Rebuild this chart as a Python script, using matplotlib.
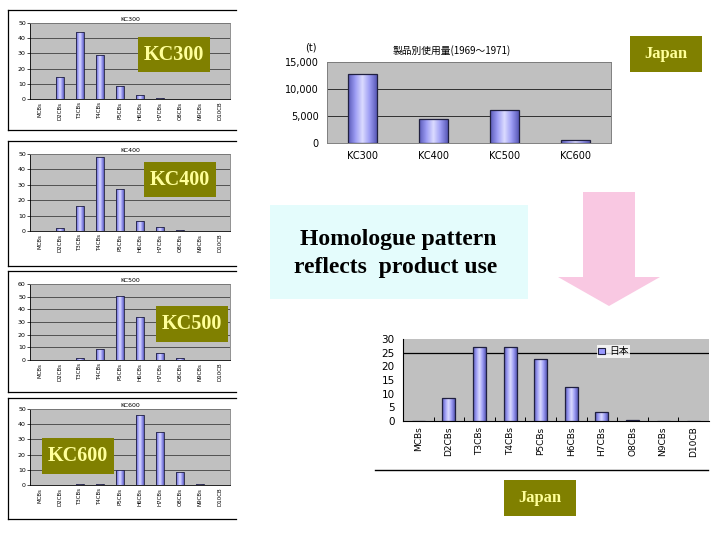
import matplotlib
matplotlib.use("Agg")
import matplotlib.pyplot as plt
import numpy as np
from matplotlib.patches import Rectangle, Polygon, Patch
from matplotlib.lines import Line2D
from matplotlib.colors import LinearSegmentedColormap

plt.rcParams['font.family'] = ['DejaVu Sans', 'Noto Sans CJK JP']

# ---------------- data ----------------
homologues = ["MCBs", "D2CBs", "T3CBs", "T4CBs", "P5CBs", "H6CBs", "H7CBs", "O8CBs", "N9CBs", "D10CB"]
kc300 = [0, 14.5, 44.3, 29, 8.6, 2.6, 0.6, 0, 0, 0]
kc400 = [0, 2.2, 16.5, 48, 27.4, 6.7, 2.4, 0.5, 0, 0]
kc500 = [0, 0, 1.8, 8.9, 50.3, 34, 5.5, 1.6, 0, 0]
kc600 = [0, 0, 0.9, 0.9, 9.8, 45.9, 34.7, 8.7, 0.7, 0]
products = ["KC300", "KC400", "KC500", "KC600"]
usage_t = [12800, 4400, 6200, 600]
usage_ticks = [0, 5000, 10000, 15000]
usage_ticklabels = ["0", "5,000", "10,000", "15,000"]
japan = [0, 8.3, 27.1, 27.1, 22.7, 12.4, 3.2, 0.5, 0, 0]

W, H = 720, 540
fig = plt.figure(figsize=(7.2, 5.4), dpi=100)

def rect(x0, y0, x1, y1):
    return [x0 / W, 1 - y1 / H, (x1 - x0) / W, (y1 - y0) / H]

def fx(x):
    return x / W

def fy(y):
    return 1 - y / H

GRAY = "#c0c0c0"
BAR = "#9999ff"
EDGE = "#202040"
OLIVE = "#808000"
YEL = "#ffff99"
grad_cmap = LinearSegmentedColormap.from_list("g", ["#5a5ab8", "#9c9cf4", "#dcdcff", "#9c9cf4", "#5a5ab8"])
grad = np.linspace(0, 1, 64).reshape(1, -1)

def gradient_bars(ax, x, vals, width, lw, zorder=3):
    bars = ax.bar(x, vals, width=width, facecolor="none", edgecolor=EDGE, linewidth=lw, zorder=zorder)
    for b in bars:
        if b.get_height() <= 0:
            continue
        x0, w, h = b.get_x(), b.get_width(), b.get_height()
        im = ax.imshow(grad, cmap=grad_cmap, extent=(x0, x0 + w, 0, h), aspect="auto",
                       zorder=zorder - 0.1, interpolation="bilinear")
        im.set_clip_path(b)
    return bars

def small_panel(box, plot, title, vals, ymax, tag_box, tag):
    bx0, by0, bx1, by1 = box
    for xs, ys in [((bx0, bx0), (by0, by1)), ((bx0, bx1), (by0, by0)), ((bx0, bx1), (by1, by1))]:
        fig.add_artist(Line2D([fx(x) for x in xs], [fy(y) for y in ys], color="black", lw=0.9))
    ax = fig.add_axes(rect(*plot))
    ax.set_facecolor(GRAY)
    x = list(range(len(homologues)))
    gradient_bars(ax, x, vals, 0.38, 0.6)
    ax.set_xlim(-0.5, len(homologues) - 0.5)
    ax.set_ylim(0, ymax)
    ax.set_yticks(range(0, ymax + 1, 10))
    ax.yaxis.grid(True, color="#404040", lw=0.6, zorder=0)
    ax.set_xticks(x)
    ax.set_xticklabels(homologues, rotation=90, fontsize=4)
    ax.tick_params(axis="y", labelsize=4.5, length=2, width=0.5, pad=1)
    ax.tick_params(axis="x", length=0, pad=2)
    for s in ["top", "right"]:
        ax.spines[s].set_color("#808080")
        ax.spines[s].set_linewidth(0.6)
    ax.spines["left"].set_linewidth(0.6)
    ax.spines["bottom"].set_linewidth(0.6)
    ax.set_title(title, fontsize=4.5, pad=1.5)
    tx0, ty0, tx1, ty1 = tag_box
    fig.add_artist(Rectangle((fx(tx0), fy(ty1)), (tx1 - tx0) / W, (ty1 - ty0) / H,
                             transform=fig.transFigure, facecolor=OLIVE, edgecolor="none", zorder=5))
    fig.text(fx((tx0 + tx1) / 2), fy((ty0 + ty1) / 2), tag, ha="center", va="center",
             fontsize=14.5, fontweight="bold", family="Liberation Serif", color=YEL, zorder=6)

small_panel((8, 10, 236, 130), (30, 23, 230, 99), "KC300", kc300, 50, (138, 37, 210, 72), "KC300")
small_panel((8, 141, 236, 266), (30, 154, 230, 231), "KC400", kc400, 50, (144, 162, 216, 197), "KC400")
small_panel((8, 271, 236, 392), (30, 284, 230, 360), "KC500", kc500, 60, (156, 306, 228, 342), "KC500")
small_panel((8, 398, 236, 519), (30, 409, 230, 485), "KC600", kc600, 50, (42, 438, 114, 474), "KC600")

# ---------------- top right chart ----------------
ax2 = fig.add_axes(rect(327, 62, 611, 143))
ax2.set_facecolor(GRAY)
gradient_bars(ax2, list(range(len(products))), usage_t, 0.4, 0.9)
ax2.set_xlim(-0.5, len(products) - 0.5)
ax2.set_ylim(0, 15000)
ax2.set_yticks(usage_ticks)
ax2.set_yticklabels(usage_ticklabels)
ax2.yaxis.grid(True, color="#303030", lw=0.7, zorder=0)
ax2.set_xticks(range(len(products)))
ax2.set_xticklabels(products)
ax2.tick_params(labelsize=7, length=0, pad=6)
for s in ax2.spines.values():
    s.set_color("#808080")
    s.set_linewidth(0.7)
fig.text(fx(452), fy(51), "製品別使用量(1969～1971)", ha="center", va="center", fontsize=7,
         family=["Noto Sans CJK JP", "DejaVu Sans"])
fig.text(fx(311), fy(47), "(t)", ha="center", va="center", fontsize=7)

fig.add_artist(Rectangle((fx(630), fy(72)), 72 / W, 36 / H, transform=fig.transFigure,
                         facecolor=OLIVE, edgecolor="none"))
fig.text(fx(666), fy(54), "Japan", ha="center", va="center", fontsize=12, fontweight="bold",
         family="Liberation Serif", color=YEL)

# ---------------- middle text box ----------------
fig.add_artist(Rectangle((fx(270), fy(299)), (528 - 270) / W, (299 - 205) / H, transform=fig.transFigure,
                         facecolor="#e4fcfc", edgecolor="none"))
fig.text(fx(398), fy(239), "Homologue pattern", ha="center", va="center", fontsize=17,
         fontweight="bold", family="Liberation Serif")
fig.text(fx(396), fy(267), "reflects  product use", ha="center", va="center", fontsize=17,
         fontweight="bold", family="Liberation Serif")

# ---------------- pink arrow ----------------
arrow_px = [(583, 192), (635, 192), (635, 277), (660, 277), (609, 306), (558, 277), (583, 277)]
fig.add_artist(Polygon([(fx(x), fy(y)) for x, y in arrow_px], closed=True, transform=fig.transFigure,
                       facecolor="#f9c8e2", edgecolor="none"))

# ---------------- bottom chart ----------------
ax3 = fig.add_axes(rect(403, 339, 709, 421))
ax3.set_facecolor(GRAY)
xj = list(range(len(homologues)))
gradient_bars(ax3, xj, japan, 0.42, 0.9)
ax3.set_xlim(-0.5, len(homologues) - 0.5)
ax3.set_ylim(0, 30)
ax3.set_yticks(range(0, 31, 5))
ax3.axhline(25, color="black", lw=0.9, zorder=1)
ax3.set_xticks(xj)
ax3.set_xticklabels(homologues, rotation=90, fontsize=6.5)
ax3.set_xticks([i + 0.5 for i in range(len(homologues) - 1)], minor=True)
ax3.tick_params(axis="x", which="major", length=0, pad=4)
ax3.tick_params(axis="x", which="minor", length=3, width=0.7, direction="in")
ax3.tick_params(axis="y", labelsize=7.5, length=0, pad=6)
ax3.spines["top"].set_visible(False)
ax3.spines["right"].set_visible(False)
ax3.spines["left"].set_linewidth(0.8)
ax3.spines["bottom"].set_linewidth(0.8)
leg = ax3.legend(handles=[Patch(facecolor=BAR, edgecolor=EDGE, linewidth=0.8, label="日本")],
                 loc="upper left", bbox_to_anchor=((597 - 403) / 306, (421 - 345) / 82),
                 frameon=True, fancybox=False, borderpad=0.15, handlelength=0.7, handleheight=0.7,
                 handletextpad=0.4, borderaxespad=0,
                 prop={"family": ["Noto Sans CJK JP", "DejaVu Sans"], "size": 7})
leg.get_frame().set_edgecolor("white")
leg.get_frame().set_linewidth(0)
fig.add_artist(Line2D([fx(375), fx(708)], [fy(470), fy(470)], color="black", lw=1.0))

fig.add_artist(Rectangle((fx(504), fy(516)), 72 / W, 36 / H, transform=fig.transFigure,
                         facecolor=OLIVE, edgecolor="none"))
fig.text(fx(540), fy(498), "Japan", ha="center", va="center", fontsize=12, fontweight="bold",
         family="Liberation Serif", color=YEL)

fig.savefig("out.png", dpi=100)
